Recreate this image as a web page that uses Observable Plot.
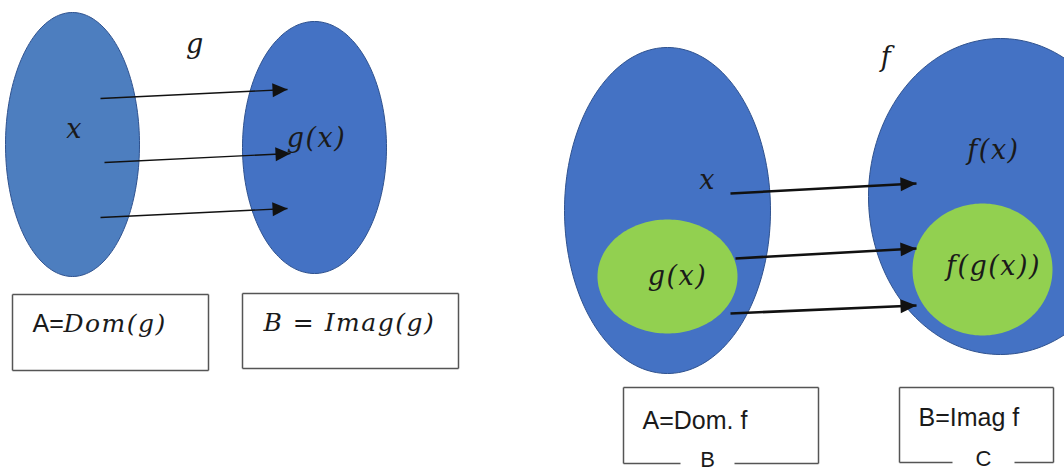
<!DOCTYPE html>
<html>
<head>
<meta charset="utf-8">
<script src="https://cdn.jsdelivr.net/npm/d3@7"></script>
<script src="https://cdn.jsdelivr.net/npm/@observablehq/plot@0.6"></script>
<style>
  html, body { margin: 0; padding: 0; background: #ffffff; }
  #chart svg { display: block; }
</style>
</head>
<body>
<div id="chart"></div>
<script>
// ---- Diagram data (pixel-space coordinates of the reference) ----
const ellipseNames = ["Dom g", "Imag g", "Dom f", "Imag f", "g(x) set", "f(g(x)) set"];
const ellipseCx    = [72, 314, 667, 1000, 667, 982];
const ellipseCy    = [144, 147, 210, 196, 276, 269];
const ellipseRx    = [67, 72, 103, 132, 70, 70];
const ellipseRy    = [132, 126, 163, 158, 57, 66];
const ellipseKind  = ["lightBlue", "blue", "blue", "blue", "green", "green"];

const arrowX1 = [100, 104, 100, 730, 735, 730];
const arrowY1 = [98, 162, 217, 193, 258, 313];
const arrowX2 = [287, 290, 287, 916, 916, 916];
const arrowY2 = [89, 153, 208, 183, 248, 305];
const arrowGroup = ["g", "g", "g", "f", "f", "f"];

const labelText = ["g", "x", "g(x)", "f", "x", "f(x)", "g(x)", "f(g(x))"];
const labelX    = [195, 74, 316, 886, 707, 993, 677, 993];
const labelY    = [44, 129, 138, 57, 180, 150, 276, 266];

const boxX1 = [12, 242, 623, 899];
const boxX2 = [208, 458, 818, 1053];
const boxY1 = [294, 293, 387, 387];
const boxY2 = [370, 368, 463, 462];
const boxBottomLabel = ["", "", "B", "C"];
const boxBottomLabelX = [null, null, 707, 983];
const boxGapHalf = [0, 0, 27, 31];

// box texts: [prefix in sans, rest in math italic]
const boxTextSans   = ["A=", "", "A=Dom. f", "B=Imag f"];
const boxTextMath   = ["Dom(g)", "B = Imag(g)", "", ""];
const boxTextX      = [32, 263, 642, 918];
const boxTextY      = [323, 322, 420, 417];

// ---- styles ----
const fills = {lightBlue: "#4d7ebf", blue: "#4472c4", green: "#92d050"};
const outline = "#2f528f";
const mathFont = "'DejaVu Serif', serif";
const sansFont = "'Liberation Sans', Arial, sans-serif";

// ---- build tables ----
const ellipses = ellipseNames.map((name, i) => ({
  name, cx: ellipseCx[i], cy: ellipseCy[i], rx: ellipseRx[i], ry: ellipseRy[i], kind: ellipseKind[i]
}));
function ellipsePoints(e) {
  const n = 180, pts = [];
  for (let k = 0; k < n; k++) {
    const t = (2 * Math.PI * k) / n;
    pts.push({x: e.cx + e.rx * Math.cos(t), y: e.cy + e.ry * Math.sin(t)});
  }
  return pts;
}
const arrows = arrowX1.map((_, i) => ({
  x1: arrowX1[i], y1: arrowY1[i], x2: arrowX2[i], y2: arrowY2[i], group: arrowGroup[i],
  angle: Math.atan2(arrowY2[i] - arrowY1[i], arrowX2[i] - arrowX1[i]) * 180 / Math.PI
}));
const labels = labelText.map((text, i) => ({text, x: labelX[i], y: labelY[i]}));

const boxSegs = [];
boxX1.forEach((x1, i) => {
  const x2 = boxX2[i], y1 = boxY1[i], y2 = boxY2[i];
  boxSegs.push({x1, y1, x2, y2: y1});
  boxSegs.push({x1, y1, x2: x1, y2});
  boxSegs.push({x1: x2, y1, x2, y2});
  if (boxBottomLabel[i]) {
    const c = boxBottomLabelX[i], g = boxGapHalf[i];
    boxSegs.push({x1, y1: y2, x2: c - g, y2});
    boxSegs.push({x1: c + g, y1: y2, x2, y2});
  } else {
    boxSegs.push({x1, y1: y2, x2, y2});
  }
});
const bottomLabels = boxBottomLabel.map((t, i) => ({text: t, x: boxBottomLabelX[i], y: boxY2[i]})).filter(d => d.text);
const boxSans = boxTextSans.map((t, i) => ({text: t, x: boxTextX[i], y: boxTextY[i]})).filter(d => d.text);
const boxMath = boxTextMath.map((t, i) => ({text: t, x: boxTextX[i] + (boxTextSans[i] ? 31 : 0), y: boxTextY[i]})).filter(d => d.text);

// filled triangular arrowhead with its tip at the origin, pointing right
function headSymbol(len, half) {
  return {draw(ctx) { ctx.moveTo(0, 0); ctx.lineTo(-len, -half); ctx.lineTo(-len, half); ctx.closePath(); }};
}

const marks = [];
ellipses.forEach(e => {
  marks.push(Plot.line(ellipsePoints(e), {
    x: "x", y: "y", curve: "linear-closed",
    fill: fills[e.kind],
    stroke: e.kind === "green" ? "none" : outline, strokeWidth: 1
  }));
});
marks.push(Plot.link(boxSegs, {x1: "x1", y1: "y1", x2: "x2", y2: "y2", stroke: "#555", strokeWidth: 1.5}));
marks.push(Plot.link(arrows.filter(a => a.group === "g"), {x1: "x1", y1: "y1", x2: "x2", y2: "y2", stroke: "#111", strokeWidth: 1.4}));
marks.push(Plot.link(arrows.filter(a => a.group === "f"), {x1: "x1", y1: "y1", x2: "x2", y2: "y2", stroke: "#111", strokeWidth: 2.6}));
marks.push(Plot.dot(arrows.filter(a => a.group === "g"), {x: "x2", y: "y2", rotate: "angle", symbol: headSymbol(15, 7), r: 5, fill: "#111", stroke: "none"}));
marks.push(Plot.dot(arrows.filter(a => a.group === "f"), {x: "x2", y: "y2", rotate: "angle", symbol: headSymbol(16, 7), r: 5, fill: "#111", stroke: "none"}));
marks.push(Plot.text(labels, {x: "x", y: "y", text: "text", fontFamily: mathFont, fontStyle: "italic", fontSize: 27, fill: "#1a1a1a"}));
marks.push(Plot.text(boxSans, {x: "x", y: "y", text: "text", textAnchor: "start", fontFamily: sansFont, fontSize: 25, fill: "#1a1a1a"}));
marks.push(Plot.text(boxMath, {x: "x", y: "y", text: "text", textAnchor: "start", fontFamily: mathFont, fontStyle: "italic", fontSize: 25, fill: "#1a1a1a"}));
marks.push(Plot.text(bottomLabels, {x: "x", y: "y", dy: -4, text: "text", fontFamily: sansFont, fontSize: 22, fill: "#1a1a1a"}));

const chart = Plot.plot({
  width: 1064, height: 474,
  margin: 0,
  x: {domain: [0, 1064], axis: null},
  y: {domain: [474, 0], axis: null},
  style: {background: "#ffffff", overflow: "hidden"},
  marks
});
// widen the spacing of the math-italic labels, like the reference's math font
chart.querySelectorAll('g[font-style="italic"]').forEach(g => g.setAttribute("letter-spacing", "1.5"));
document.getElementById("chart").appendChild(chart);
</script>
</body>
</html>
